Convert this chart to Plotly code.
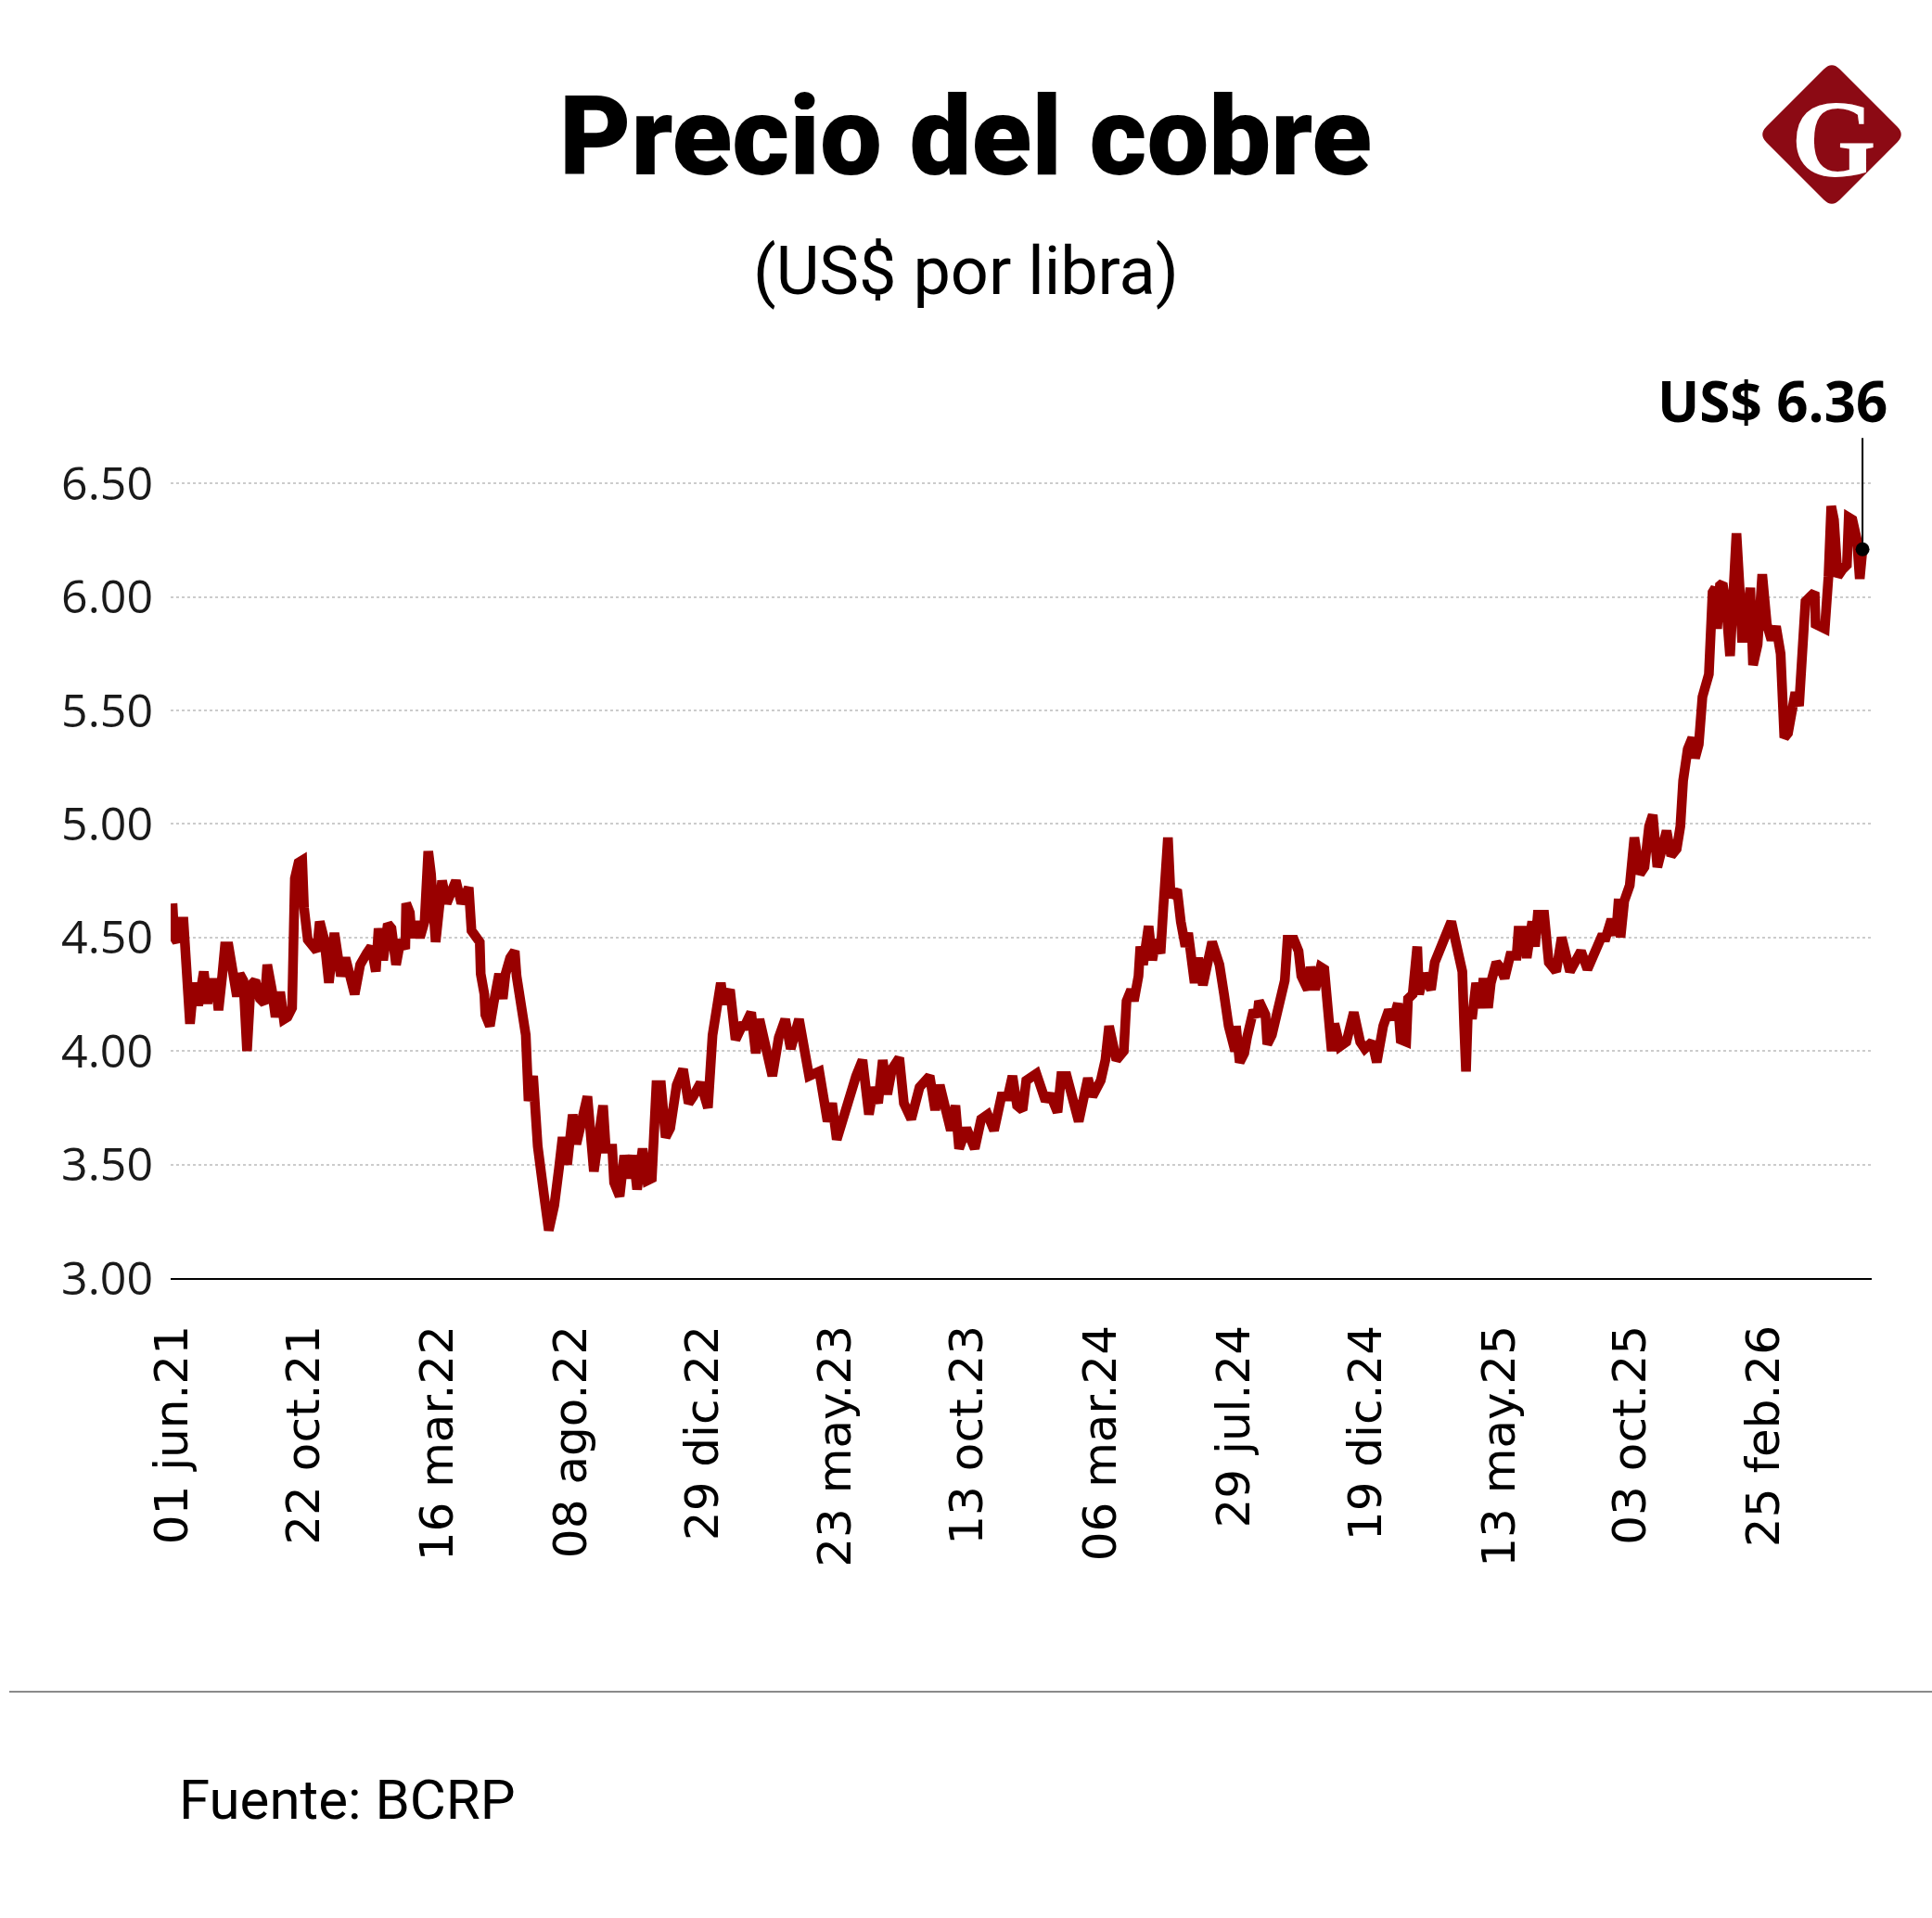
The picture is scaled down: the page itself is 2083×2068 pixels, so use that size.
import pandas as pd
import plotly.graph_objects as go

# ---------------- data ----------------
inicio = "2021-06-01"
# days elapsed since 01 jun.21
dias = [
    0, 2, 5, 8, 12, 19, 22, 24, 28, 34, 38, 42, 47, 50, 54, 57, 61, 70, 73, 77,
    81, 85, 90, 95, 100, 103, 108, 112, 117, 121, 125, 130, 133, 137, 141, 143, 147, 153, 157, 160,
    165, 170, 176, 183, 188, 198, 204, 211, 216, 221, 224, 229, 234, 238, 243, 248, 253, 254, 258, 260,
    264, 269, 274, 278, 281, 286, 293, 298,
    301, 308, 314, 322, 325, 334, 335, 339, 340, 345, 349, 352, 355, 359, 362, 367, 372, 374, 379, 384,
    387, 392, 397, 400, 404, 409, 415, 420, 424, 429, 435, 439, 446, 451, 458, 463, 468, 471, 478, 480,
    486, 491, 496, 501, 505, 511, 516, 521, 526, 531, 536, 541, 548, 555, 561, 566, 574, 582, 587, 596,
    599, 606, 612, 619,
    622, 629, 634, 638, 644, 652, 659, 666, 672, 681, 692, 703, 712, 717, 722, 728, 735, 743, 750, 757,
    762, 767, 772, 777, 782, 790, 795, 803, 812, 823, 829, 834, 846, 851, 855, 863, 872, 879, 886, 893,
    901, 908, 913, 918, 924, 928,
    939, 949, 954, 962, 966, 972, 985, 995, 1000, 1009, 1014, 1018, 1026, 1034, 1037, 1042, 1045, 1050, 1052, 1055,
    1061, 1065, 1069, 1074, 1077, 1082, 1085, 1088, 1092, 1096, 1101, 1104, 1108, 1111, 1115, 1120, 1130, 1138, 1143, 1148,
    1155, 1156, 1160, 1165, 1168, 1175, 1179, 1181, 1188, 1190, 1195, 1201, 1209, 1212, 1219, 1224, 1227, 1234, 1237, 1242,
    1248,
    1252, 1256, 1260, 1263, 1269, 1276, 1284, 1291, 1296, 1304, 1309, 1316, 1322, 1327, 1332, 1335, 1341, 1343, 1348, 1353,
    1355, 1360, 1368, 1372, 1377, 1383, 1390, 1397, 1402, 1404, 1406, 1408, 1413, 1417, 1422, 1425, 1430, 1433, 1439, 1443,
    1448, 1454, 1461, 1463, 1468, 1472, 1478, 1481, 1484, 1491, 1496, 1504, 1510, 1519, 1531, 1538, 1546, 1553,
    1558, 1564, 1569, 1572, 1574, 1578, 1584, 1589, 1595, 1600, 1605, 1609, 1614, 1619, 1624, 1629, 1635, 1639, 1642, 1647,
    1652, 1655, 1659, 1663, 1667, 1670, 1674, 1677, 1679, 1682, 1685, 1689, 1693, 1697, 1700, 1704, 1706, 1710, 1715, 1718,
    1723, 1728, 1733, 1738, 1743, 1748, 1750, 1752, 1756, 1760, 1764, 1768, 1771, 1775, 1780, 1785, 1786, 1796, 1800, 1803,
    1806, 1810, 1815, 1820, 1822, 1826, 1831, 1834, 1837,
]
# US$ per pound
precio = [
    4.65, 4.50, 4.48, 4.57, 4.57, 4.12, 4.25, 4.30, 4.20, 4.35, 4.21, 4.30, 4.30, 4.18, 4.33, 4.46, 4.46, 4.24, 4.34, 4.31,
    4.00, 4.29, 4.31, 4.23, 4.21, 4.38, 4.27, 4.15, 4.26, 4.14, 4.15, 4.19, 4.76, 4.83, 4.84, 4.63, 4.49, 4.46, 4.44, 4.57,
    4.49, 4.30, 4.52, 4.33, 4.41, 4.25, 4.38, 4.43, 4.46, 4.35, 4.54, 4.40, 4.56, 4.54, 4.38, 4.49, 4.45, 4.65, 4.61, 4.50,
    4.57, 4.50, 4.57, 4.88, 4.78, 4.48, 4.75, 4.65,
    4.68, 4.75, 4.65, 4.72, 4.53, 4.48, 4.34, 4.25, 4.16, 4.11, 4.21, 4.31, 4.34, 4.23, 4.34, 4.41, 4.44, 4.33, 4.21, 4.07,
    3.78, 3.89, 3.58, 3.44, 3.36, 3.21, 3.32, 3.48, 3.62, 3.50, 3.72, 3.59, 3.69, 3.80, 3.47, 3.61, 3.76, 3.57, 3.57, 3.42,
    3.36, 3.54, 3.44, 3.54, 3.39, 3.57, 3.43, 3.44, 3.85, 3.85, 3.62, 3.66, 3.85, 3.92, 3.77, 3.80, 3.86, 3.75, 4.07, 4.30,
    4.21, 4.27, 4.05, 4.11,
    4.11, 4.17, 3.99, 4.14, 4.04, 3.89, 4.06, 4.14, 4.01, 4.14, 3.89, 3.91, 3.69, 3.77, 3.61, 3.70, 3.81, 3.89, 3.96, 3.72,
    3.84, 3.77, 3.96, 3.81, 3.92, 3.97, 3.77, 3.70, 3.84, 3.89, 3.74, 3.85, 3.65, 3.76, 3.57, 3.66, 3.57, 3.70, 3.72, 3.65,
    3.80, 3.80, 3.89, 3.76, 3.74, 3.87,
    3.90, 3.78, 3.81, 3.73, 3.89, 3.89, 3.69, 3.88, 3.80, 3.87, 3.96, 4.11, 3.96, 4.00, 4.22, 4.27, 4.22, 4.33, 4.46, 4.38,
    4.55, 4.40, 4.49, 4.43, 4.63, 4.94, 4.68, 4.69, 4.71, 4.57, 4.46, 4.52, 4.41, 4.30, 4.41, 4.29, 4.48, 4.38, 4.25, 4.11,
    4.00, 4.11, 3.95, 3.99, 4.06, 4.18, 4.15, 4.22, 4.16, 4.03, 4.07, 4.16, 4.31, 4.49, 4.49, 4.44, 4.33, 4.27, 4.37, 4.27,
    4.37,
    4.36, 4.21, 4.00, 4.12, 4.02, 4.04, 4.17, 4.04, 4.01, 4.04, 3.95, 4.11, 4.18, 4.14, 4.21, 4.05, 4.04, 4.23, 4.25, 4.46,
    4.25, 4.34, 4.27, 4.39, 4.43, 4.50, 4.57, 4.44, 4.35, 4.11, 3.91, 4.16, 4.16, 4.30, 4.19, 4.32, 4.19, 4.30, 4.39, 4.37,
    4.32, 4.42, 4.42, 4.53, 4.53, 4.41, 4.57, 4.46, 4.60, 4.60, 4.39, 4.35, 4.50, 4.35, 4.44, 4.36, 4.43, 4.50,
    4.50, 4.58, 4.51, 4.67, 4.50, 4.66, 4.73, 4.94, 4.78, 4.81, 4.99, 5.04, 4.81, 4.89, 4.97, 4.86, 4.89, 4.99, 5.19, 5.33,
    5.38, 5.29, 5.35, 5.56, 5.61, 5.66, 6.02, 6.04, 5.86, 6.05, 6.06, 5.95, 5.74, 5.98, 6.28, 6.00, 5.82, 5.82, 6.04, 5.70,
    5.79, 6.10, 5.88, 5.81, 5.87, 5.75, 5.59, 5.38, 5.40, 5.49, 5.58, 5.52, 5.81, 5.98, 6.00, 6.02, 5.88, 5.86, 6.09, 6.40,
    6.34, 6.09, 6.12, 6.14, 6.35, 6.34, 6.25, 6.08, 6.21,
]
assert len(dias) == len(precio)

tick_fechas = ["2021-06-01", "2021-10-22", "2022-03-16", "2022-08-08", "2022-12-29",
               "2023-05-23", "2023-10-13", "2024-03-06", "2024-07-29", "2024-12-19",
               "2025-05-13", "2025-10-03", "2026-02-25"]
tick_textos = ["01 jun.21", "22 oct.21", "16 mar.22", "08 ago.22", "29 dic.22",
               "23 may.23", "13 oct.23", "06 mar.24", "29 jul.24", "19 dic.24",
               "13 may.25", "03 oct.25", "25 feb.26"]
y_ticks = [3.0, 3.5, 4.0, 4.5, 5.0, 5.5, 6.0, 6.5]

titulo = "Precio del cobre"
subtitulo = "(US$ por libra)"
etiqueta_final = "US$ 6.36"
fuente = "Fuente: BCRP"
logo_letra = "G"

# ---------------- layout geometry ----------------
W, H = 2083, 2068
ML, MR, MT, MB = 184, 65, 460, 690
PW = W - ML - MR
PH = H - MT - MB


def px(x):
    return (x - ML) / PW


def py(y):
    return (H - MB - y) / PH


fechas = pd.Timestamp(inicio) + pd.to_timedelta(dias, unit="D")

ROJO = "#990000"

fig = go.Figure()
fig.add_trace(go.Scatter(
    x=fechas, y=precio, mode="lines",
    line=dict(color=ROJO, width=10.5),
    hoverinfo="skip", showlegend=False,
))
fig.add_trace(go.Scatter(
    x=[fechas[-1]], y=[precio[-1]], mode="markers",
    marker=dict(color="black", size=15),
    cliponaxis=False, hoverinfo="skip", showlegend=False,
))

shapes = []
# leader line from last point up to the label
shapes.append(dict(type="line", xref="x", yref="y",
                   x0=fechas[-1], x1=fechas[-1], y0=precio[-1], y1=6.70,
                   line=dict(color="black", width=2)))
# separator line above the source
shapes.append(dict(type="line", xref="paper", yref="paper",
                   x0=px(10), x1=px(W), y0=py(1824), y1=py(1824),
                   line=dict(color="#8a8a8a", width=2)))
# logo diamond with rounded corners
cx, cy, hd, r = 1975, 145, 79, 8.5
pts = [
    (cx + r, cy - hd + r), (cx + hd - r, cy - r), (cx + hd, cy), (cx + hd - r, cy + r),
    (cx + r, cy + hd - r), (cx, cy + hd), (cx - r, cy + hd - r),
    (cx - hd + r, cy + r), (cx - hd, cy), (cx - hd + r, cy - r),
    (cx - r, cy - hd + r), (cx, cy - hd), (cx + r, cy - hd + r),
]


def P(p):
    return f"{px(p[0]):.5f},{py(p[1]):.5f}"


path = (f"M{P(pts[0])} L{P(pts[1])} Q{P(pts[2])} {P(pts[3])} L{P(pts[4])} "
        f"Q{P(pts[5])} {P(pts[6])} L{P(pts[7])} Q{P(pts[8])} {P(pts[9])} "
        f"L{P(pts[10])} Q{P(pts[11])} {P(pts[12])} Z")
shapes.append(dict(type="path", xref="paper", yref="paper", path=path,
                   fillcolor="#8c0a14", line=dict(width=0)))

annotations = [
    dict(text=titulo, xref="paper", yref="paper", x=px(1041), y=py(147),
         xanchor="center", yanchor="middle", showarrow=False,
         font=dict(family="Roboto", size=119, color="black", weight=900)),
    dict(text=subtitulo, xref="paper", yref="paper", x=px(1041), y=py(292),
         xanchor="center", yanchor="middle", showarrow=False,
         font=dict(family="Roboto", size=72, color="black")),
    dict(text=f"<b>{etiqueta_final}</b>", xref="paper", yref="paper", x=px(2037), y=py(432),
         xanchor="right", yanchor="middle", showarrow=False,
         font=dict(family="Open Sans", size=60, color="black")),
    dict(text=fuente, xref="paper", yref="paper", x=px(191), y=py(1940),
         xanchor="left", yanchor="middle", showarrow=False,
         font=dict(family="Roboto", size=60, color="black")),
    dict(text=f"<b>{logo_letra}</b>", xref="paper", yref="paper", x=px(1977), y=py(150),
         xanchor="center", yanchor="middle", showarrow=False,
         font=dict(family="Liberation Serif", size=118, color="white")),
]

fig.update_layout(
    width=W, height=H,
    margin=dict(l=ML, r=MR, t=MT, b=MB, pad=0),
    paper_bgcolor="white", plot_bgcolor="white",
    shapes=shapes, annotations=annotations,
    showlegend=False, hovermode=False,
)
fig.update_xaxes(
    type="date", range=["2021-05-30", "2026-06-22"],
    tickvals=tick_fechas, ticktext=tick_textos, tickangle=-90,
    tickfont=dict(family="DejaVu Sans", size=50, color="black"),
    showgrid=False, zeroline=False, showline=True, linecolor="black", linewidth=2,
    ticks="", ticklabelstandoff=29,
)
fig.update_yaxes(
    range=[3, 6.75], tickvals=y_ticks, tickformat=".2f",
    tickfont=dict(family="Open Sans", size=50, color="#1a1a1a"),
    showgrid=True, gridcolor="#cccccc", griddash="dot", gridwidth=1.5,
    zeroline=False, showline=False, ticks="", ticklabelstandoff=18,
)

fig.write_html("out.html")
